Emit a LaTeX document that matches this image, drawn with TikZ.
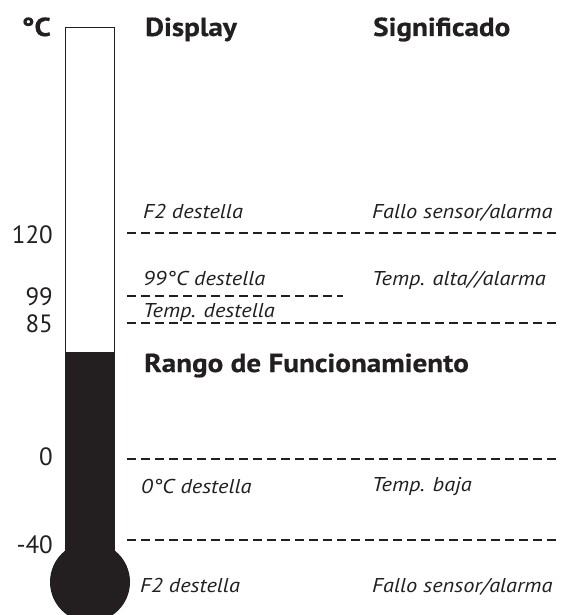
\documentclass[tikz,border=0pt]{standalone}
\usepackage{fontspec}
\setmainfont{PT Sans}
\newfontfamily\widefont[FakeStretch=1.12]{PT Sans}
\newfontfamily\widebold[FakeStretch=1.12,FakeBold=0.6]{PT Sans Bold}
\definecolor{ink}{HTML}{231F20}
\begin{document}
\begin{tikzpicture}[x=1pt,y=-1pt,
  hdr/.style={font=\widebold\fontsize{26}{30}\selectfont, text=ink, inner sep=0pt, anchor=base west},
  num/.style={font=\fontsize{25}{30}\selectfont, text=ink, inner sep=0pt, anchor=base east},
  lab/.style={font=\widefont\itshape\fontsize{20}{24}\selectfont, text=ink, inner sep=0pt, anchor=base west},
  lvl/.style={draw=ink, line width=2pt, dash pattern=on 8.5pt off 5.5pt}]
\useasboundingbox (0,0) rectangle (561,615);
\begin{scope}
\clip (0,0) rectangle (561,615);
% thermometer
\fill[ink] (65,352) rectangle (115,560);
\fill[ink] (90,582) circle (40);
\draw[ink, line width=1.4pt] (65.7,353) -- (65.7,27.5) -- (114.3,27.5) -- (114.3,353);
\end{scope}
% headers
\node[hdr, anchor=base east] (degc) at (51,36) {°C};
\node[hdr] (disp) at (145,36) {Display};
\node[hdr] (sig) at (373,36) {Significado};
% numbers
\node[num] (n120) at (53,243) {120};
\node[num] (n99) at (53,305) {99};
\node[num] (n85) at (53,332) {85};
\node[num] (n0) at (53,465) {0};
\node[num] (n40) at (53,553) {-40};
% level lines
\coordinate (a1) at (127,233); \coordinate (b1) at (561,233);
\coordinate (a2) at (127,296); \coordinate (b2) at (343,296);
\coordinate (a3) at (127,323); \coordinate (b3) at (561,323);
\coordinate (a4) at (127,459); \coordinate (b4) at (561,459);
\coordinate (a5) at (127,540); \coordinate (b5) at (561,540);
\draw[lvl] (a1) -- (b1);
\draw[lvl] (a2) -- (b2);
\draw[lvl] (a3) -- (b3);
\draw[lvl] (a4) -- (b4);
\draw[lvl] (a5) -- (b5);
% labels
\node[lab] (d1) at (143,218) {F2 destella};
\node[lab] (s1) at (372,218) {Fallo sensor/alarma};
\node[lab] (d2) at (143,285) {99°C destella};
\node[lab] (s2) at (372,285) {Temp. alta//alarma};
\node[lab] (d3) at (143,317) {Temp. destella};
\node[hdr] (rango) at (144,372) {Rango de Funcionamiento};
\node[lab] (d4) at (141,493) {0°C destella};
\node[lab] (s4) at (372,491) {Temp. baja};
\node[lab] (d5) at (140,592) {F2 destella};
\node[lab] (s5) at (372,592) {Fallo sensor/alarma};
\end{tikzpicture}
\end{document}
